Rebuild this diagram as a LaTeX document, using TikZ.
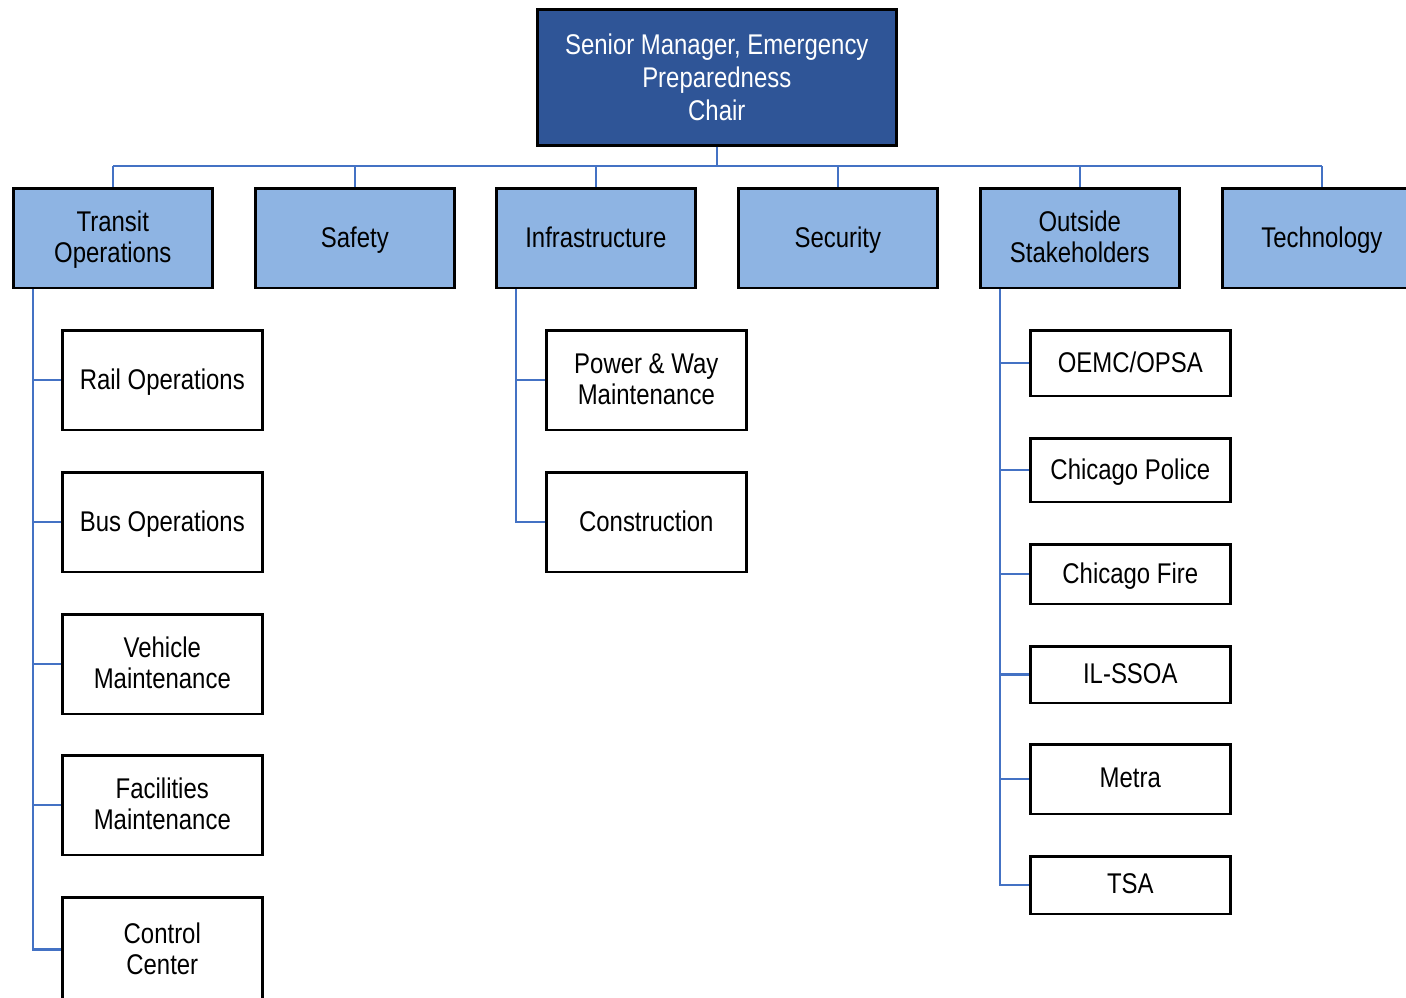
\documentclass[tikz,border=0pt]{standalone}
\usepackage{fontspec}
\setmainfont{Liberation Sans}[FakeStretch=0.84]
\definecolor{chairblue}{HTML}{2F5597}
\definecolor{catblue}{HTML}{8EB4E3}
\definecolor{linkblue}{HTML}{4472C4}
\tikzset{
  boxbase/.style={draw=black, line width=2.6pt, rectangle, inner sep=0pt,
    anchor=north west, align=center, text depth=0.21em,
    font=\fontsize{28.5}{31}\selectfont},
  chairbox/.style={boxbase, fill=chairblue, text=white, minimum width=359pt,
    minimum height=136pt, text depth=0pt, font=\fontsize{28.5}{33}\selectfont},
  catbox/.style={boxbase, fill=catblue, minimum width=199pt, minimum height=99.5pt},
  unitbox/.style={boxbase, fill=white, minimum width=200pt},
  link/.style={draw=linkblue, line width=2.6pt}
}
\begin{document}
\begin{tikzpicture}[x=1pt,y=-1pt]
\useasboundingbox[fill=white] (0,0) rectangle (1406,997);
\clip (0,0) rectangle (1406,997);

% chair
\node[chairbox] (chair) at (536,8) {Senior Manager, Emergency\\Preparedness\\Chair};

% working groups
\node[catbox] (transit) at (12,187) {Transit\\Operations};
\node[catbox] (safety) at (254,187) {Safety};
\node[catbox] (infra) at (495,187) {Infrastructure};
\node[catbox] (security) at (737,187) {Security};
\node[catbox] (outside) at (979,187) {Outside\\Stakeholders};
\node[catbox] (tech) at (1221,187) {Technology};

% bus between chair and working groups
\coordinate (bus) at (0,166);
\draw[link] (chair.south) -- (chair.south |- bus);
\draw[link] (transit.north |- bus) -- (tech.north |- bus);
\foreach \g in {transit,safety,infra,security,outside,tech}
  \draw[link] (\g.north) -- (\g.north |- bus);

% transit operations units
\node[unitbox, minimum height=99.5pt] (rail) at (61,329) {Rail Operations};
\node[unitbox, minimum height=99.5pt] (bus1) at (61,471) {Bus Operations};
\node[unitbox, minimum height=99.5pt] (vehicle) at (61,613) {Vehicle\\Maintenance};
\node[unitbox, minimum height=99.5pt] (facil) at (61,754) {Facilities\\Maintenance};
\node[unitbox, minimum height=104pt] (control) at (61,896) {Control\\Center};

\coordinate (trunkA) at (33,0);
\draw[link] (transit.south -| trunkA) |- (control.west);
\foreach \u in {rail,bus1,vehicle,facil}
  \draw[link] (\u.west) -- (\u.west -| trunkA);

% infrastructure units
\node[unitbox, minimum height=99.5pt] (power) at (545,329) {Power \& Way\\Maintenance};
\node[unitbox, minimum height=99.5pt] (constr) at (545,471) {Construction};

\coordinate (trunkB) at (516,0);
\draw[link] (infra.south -| trunkB) |- (constr.west);
\draw[link] (power.west) -- (power.west -| trunkB);

% outside stakeholders
\node[unitbox, minimum height=65.5pt] (oemc) at (1029,329) {OEMC/OPSA};
\node[unitbox, minimum height=63.5pt] (police) at (1029,437) {Chicago Police};
\node[unitbox, minimum height=59.5pt] (fire) at (1029,543) {Chicago Fire};
\node[unitbox, minimum height=56.5pt] (ssoa) at (1029,645) {IL-SSOA};
\node[unitbox, minimum height=69.5pt] (metra) at (1029,743) {Metra};
\node[unitbox, minimum height=57.5pt] (tsa) at (1029,855) {TSA};

\coordinate (trunkC) at (1000,0);
\draw[link] (outside.south -| trunkC) |- (tsa.west);
\foreach \u in {oemc,police,fire,ssoa,metra}
  \draw[link] (\u.west) -- (\u.west -| trunkC);
\end{tikzpicture}
\end{document}
